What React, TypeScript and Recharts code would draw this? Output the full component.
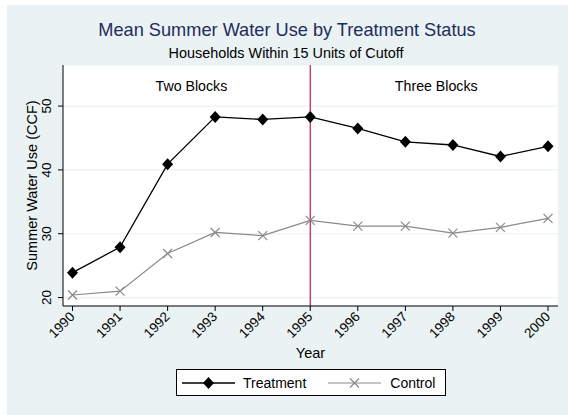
import {
    LineChart,
    Line,
    XAxis,
    YAxis,
    CartesianGrid,
    ReferenceLine,
    ReferenceDot,
    Legend,
} from "recharts";

const years = [1990, 1991, 1992, 1993, 1994, 1995, 1996, 1997, 1998, 1999, 2000];
const treatment = [23.9, 27.9, 40.9, 48.3, 47.9, 48.3, 46.5, 44.4, 43.9, 42.1, 43.7];
const control = [20.4, 21.0, 26.9, 30.2, 29.7, 32.1, 31.2, 31.2, 30.1, 31.0, 32.4];
const yTicks = [20, 30, 40, 50];
const cutoffYear = 1995;
const periodNames = ["Two Blocks", "Three Blocks"];
const periodCenters = [1992.5, 1997.65];
const periodLabelLevel = 52.35;

const data = years.map((year, i) => ({ year, treatment: treatment[i], control: control[i] }));

const FONT = '"Liberation Sans", Arial, Helvetica, sans-serif';
const BG = "#EAF2F3";
const CONTROL_GRAY = "#8a8a8a";

function Diamond({ cx, cy }: { cx: number; cy: number }) {
    return <path d={`M${cx},${cy - 6}L${cx + 5.5},${cy}L${cx},${cy + 6}L${cx - 5.5},${cy}Z`} fill="#000" />;
}

function Cross({ cx, cy }: { cx: number; cy: number }) {
    const s = 4.5;
    return (
        <g stroke={CONTROL_GRAY} strokeWidth={1.2}>
            <line x1={cx - s} y1={cy - s} x2={cx + s} y2={cy + s} />
            <line x1={cx - s} y1={cy + s} x2={cx + s} y2={cy - s} />
        </g>
    );
}

function XTick({ x, y, payload }: any) {
    const ax = x + 3;
    const ay = y + 4.5;
    return (
        <text x={ax} y={ay} transform={`rotate(-45, ${ax}, ${ay})`} textAnchor="end" fontSize={13.5} fill="#000" fontFamily={FONT}>
            {payload.value}
        </text>
    );
}

function YTick({ x, y, payload }: any) {
    const bx = x - 4.5;
    return (
        <text x={bx} y={y} transform={`rotate(-90, ${bx}, ${y})`} textAnchor="middle" fontSize={13.5} fill="#000" fontFamily={FONT}>
            {payload.value}
        </text>
    );
}

function LegendBox() {
    return (
        <div
            style={{
                width: 270,
                height: 27,
                boxSizing: "border-box",
                border: "1px solid #000",
                background: "#fff",
                display: "flex",
                alignItems: "center",
                fontSize: 14,
                fontFamily: FONT,
                color: "#000",
            }}
        >
            <svg width={53} height={14} style={{ marginLeft: 5 }}>
                <line x1={0} x2={53} y1={7} y2={7} stroke="#000" strokeWidth={1.3} />
                <Diamond cx={26.5} cy={7} />
            </svg>
            <span style={{ marginLeft: 8 }}>Treatment</span>
            <svg width={53} height={14} style={{ marginLeft: 22 }}>
                <line x1={0} x2={53} y1={7} y2={7} stroke={CONTROL_GRAY} strokeWidth={1.2} />
                <Cross cx={26.5} cy={7} />
            </svg>
            <span style={{ marginLeft: 9 }}>Control</span>
        </div>
    );
}

export default function App() {
    return (
        <div style={{ position: "absolute", left: 0, top: 0, width: 568, height: 415, background: "#fff", fontFamily: FONT }}>
            <div style={{ position: "absolute", left: 7, top: 5, width: 561, height: 410, background: BG }} />
            <svg width={568} height={70} style={{ position: "absolute", left: 0, top: 0 }}>
                <text x={287} y={36} textAnchor="middle" fontSize={18.2} fill="#1E2D5C" fontFamily={FONT}>
                    Mean Summer Water Use by Treatment Status
                </text>
                <text x={286} y={57.5} textAnchor="middle" fontSize={14.4} fill="#000" fontFamily={FONT}>
                    Households Within 15 Units of Cutoff
                </text>
            </svg>
            <div style={{ position: "absolute", left: 0, top: 0 }}>
                <LineChart width={568} height={415} data={data} margin={{ top: 65, right: 10, bottom: 49, left: 23 }}>
                    <CartesianGrid vertical={false} stroke={BG} strokeWidth={1.2} fill="#fff" />
                    <XAxis
                        dataKey="year"
                        type="number"
                        domain={[1989.8, 2000.21]}
                        ticks={years}
                        interval={0}
                        height={60}
                        tickSize={5}
                        stroke="#000"
                        tick={<XTick />}
                        label={(p: any) => (
                            <text
                                x={p.viewBox.x + p.viewBox.width / 2}
                                y={p.viewBox.y + 52.3}
                                textAnchor="middle"
                                fontSize={14.5}
                                fill="#000"
                                fontFamily={FONT}
                            >
                                Year
                            </text>
                        )}
                    />
                    <YAxis
                        type="number"
                        domain={[18.68, 56.43]}
                        ticks={yTicks}
                        allowDataOverflow
                        width={40}
                        tickSize={5}
                        stroke="#000"
                        tick={<YTick />}
                        label={(p: any) => {
                            const lx = p.viewBox.x + 13.5;
                            const ly = p.viewBox.y + p.viewBox.height / 2;
                            return (
                                <text
                                    x={lx}
                                    y={ly}
                                    transform={`rotate(-90, ${lx}, ${ly})`}
                                    textAnchor="middle"
                                    fontSize={14.5}
                                    fill="#000"
                                    fontFamily={FONT}
                                >
                                    Summer Water Use (CCF)
                                </text>
                            );
                        }}
                    />
                    <ReferenceLine x={cutoffYear} stroke="#D0174A" strokeWidth={1.2} />
                    {periodNames.map((name, i) => (
                        <ReferenceDot
                            key={name}
                            x={periodCenters[i]}
                            y={periodLabelLevel}
                            r={0}
                            fill="none"
                            stroke="none"
                            label={(p: any) => (
                                <text
                                    x={p.viewBox.x + p.viewBox.width / 2}
                                    y={p.viewBox.y + p.viewBox.height / 2}
                                    textAnchor="middle"
                                    fontSize={14.2}
                                    fill="#000"
                                    fontFamily={FONT}
                                >
                                    {name}
                                </text>
                            )}
                        />
                    ))}
                    <Line
                        dataKey="control"
                        stroke={CONTROL_GRAY}
                        strokeWidth={1.2}
                        isAnimationActive={false}
                        dot={(props: any) => <Cross key={props.key ?? props.index} cx={props.cx} cy={props.cy} />}
                        activeDot={false}
                    />
                    <Line
                        dataKey="treatment"
                        stroke="#000"
                        strokeWidth={1.3}
                        isAnimationActive={false}
                        dot={(props: any) => <Diamond key={props.key ?? props.index} cx={props.cx} cy={props.cy} />}
                        activeDot={false}
                    />
                    <Legend
                        layout="horizontal"
                        verticalAlign="middle"
                        align="center"
                        content={() => <LegendBox />}
                        wrapperStyle={{ position: "absolute", left: 176, top: 369, width: 270, height: 27 }}
                    />
                </LineChart>
            </div>
        </div>
    );
}
